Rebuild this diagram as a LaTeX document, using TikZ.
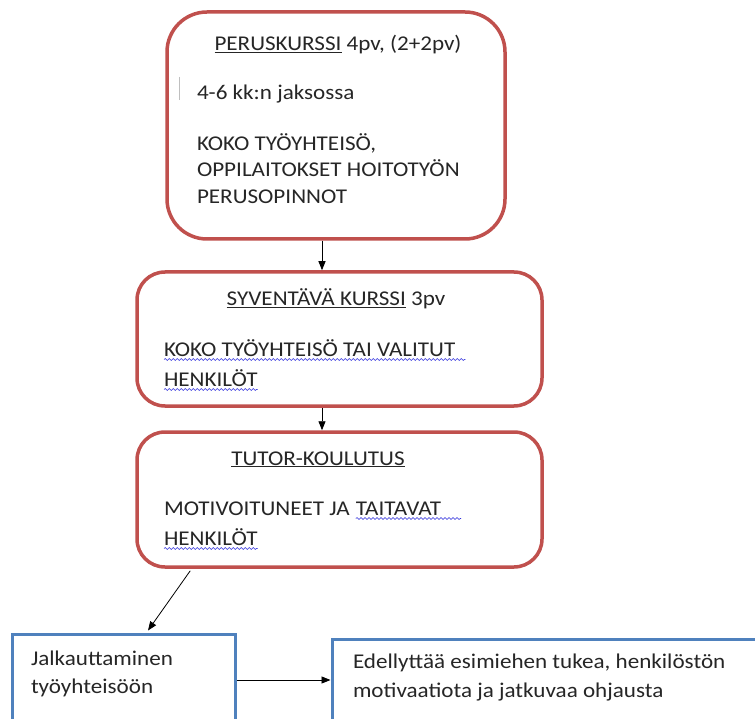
\documentclass[tikz,border=0pt]{standalone}
\usepackage{fontspec}
\setmainfont[FakeStretch=1.1]{Carlito}
\usetikzlibrary{arrows.meta,calc,decorations.pathmorphing}
\definecolor{boxred}{HTML}{C0504D}
\definecolor{boxblue}{HTML}{4F81BD}
\definecolor{wavyblue}{HTML}{3333DD}
\tikzset{
  redbox/.style={draw=boxred,line width=3.5pt,rounded corners=#1,fill=white,inner sep=0pt},
  bluebox/.style={draw=boxblue,line width=3pt,fill=white,inner sep=0pt},
  txt/.style={inner sep=0pt,outer sep=0pt,text=black!85,font=\fontsize{21}{25}\selectfont},
  arr/.style={black,line width=0.8pt,-{Triangle[length=9pt,width=7pt]}},
  wavy/.style={wavyblue,line width=0.6pt,decorate,decoration={snake,amplitude=0.9pt,segment length=4pt}}
}
\begin{document}
\begin{tikzpicture}[x=1pt,y=-1pt]
\useasboundingbox (0,0) rectangle (755,719);
\clip (0,0) rectangle (755,719);
\fill[white] (0,0) rectangle (755,719);
% boxes
\node[redbox=40pt,minimum width=338pt,minimum height=227pt] (b1) at (336,125.5) {};
\node[redbox=28pt,minimum width=405pt,minimum height=134pt] (b2) at (339.5,339) {};
\node[redbox=28pt,minimum width=405pt,minimum height=135pt] (b3) at (339.5,499.5) {};
\node[bluebox,minimum width=223pt,minimum height=86pt] (j) at (124,677) {};
\node[bluebox,minimum width=470pt,minimum height=126pt] (e) at (567,702) {};
% box 1 text
\node[txt,anchor=base] (t1a) at (338,51) {\underline{PERUSKURSSI} 4pv, (2+2pv)};
\draw[black!25,line width=0.8pt] (179,77) -- (179,100);
\node[txt,anchor=base west] (t1b) at (197,100) {4-6 kk:n jaksossa};
\node[txt,anchor=base west] (t1c) at (197,151) {KOKO TYÖYHTEISÖ,};
\node[txt,anchor=base west] (t1d) at (197,177) {OPPILAITOKSET HOITOTYÖN};
\node[txt,anchor=base west] (t1e) at (197,204) {PERUSOPINNOT};
% box 2 text
\node[txt,anchor=base] (t2a) at (336,306) {\underline{SYVENTÄVÄ KURSSI} 3pv};
\node[txt,anchor=base west] (t2b) at (164,356) {KOKO TYÖYHTEISÖ TAI VALITUT};
\node[txt,anchor=base west] (t2c) at (164,386) {HENKILÖT};
\draw[wavy] ($(t2b.base west)+(0,3.5)$) -- ($(t2b.base east)+(10,3.5)$);
\draw[wavy] ($(t2c.base west)+(0,3.5)$) -- ($(t2c.base east)+(0,3.5)$);
% box 3 text
\node[txt,anchor=base] (t3a) at (318,465) {\underline{TUTOR-KOULUTUS}};
\node[txt,anchor=base west] (t3b) at (164,515) {MOTIVOITUNEET JA};
\node[txt,anchor=base west] (t3c) at ($(t3b.base east)+(6,0)$) {TAITAVAT};
\node[txt,anchor=base west] (t3d) at (164,545) {HENKILÖT};
\draw[wavy] ($(t3c.base west)+(0,3.5)$) -- ($(t3c.base east)+(20,3.5)$);
\draw[wavy] ($(t3d.base west)+(0,3.5)$) -- ($(t3d.base east)+(0,3.5)$);
% blue box text
\node[txt,anchor=base west] (j1) at (31,665) {Jalkauttaminen};
\node[txt,anchor=base west] (j2) at (31,693) {työyhteisöön};
\node[txt,anchor=base west] (e1) at (353,668) {Edellyttää esimiehen tukea, henkilöstön};
\node[txt,anchor=base west] (e2) at (353,697) {motivaatiota ja jatkuvaa ohjausta};
% arrows
\draw[arr] ([xshift=-14pt]b1.south) -- ([xshift=-17.5pt]b2.north);
\draw[arr] ([xshift=-17.5pt]b2.south) -- ([xshift=-17.5pt]b3.north);
\draw[arr] ($(b3.south west)+(55,2)$) -- ($(j.north west)+(137,-2)$);
\draw[arr] (j.east |- 0,680) -- (e.west |- 0,680);
\end{tikzpicture}
\end{document}
